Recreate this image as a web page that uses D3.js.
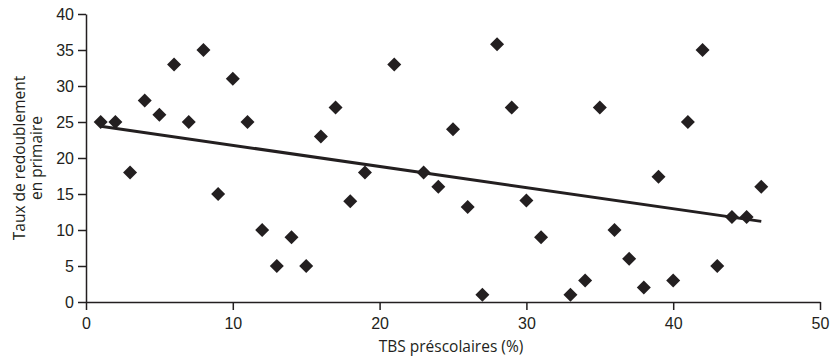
<!DOCTYPE html>
<html>
<head>
<meta charset="utf-8">
<script src="https://cdn.jsdelivr.net/npm/d3@7"></script>
<style>
  body { margin: 0; background: #fff; }
  svg { display: block; font-family: "Open Sans", sans-serif; }
</style>
</head>
<body>
<div id="chart"></div>
<script>
// TBS préscolaires (%) -> taux de redoublement en primaire
const tbs = [1, 2, 3, 4, 5, 6, 7, 8, 9, 10, 11, 12, 13, 14, 15, 16, 17, 18, 19, 21,
  23, 24, 25, 26, 27, 28, 29, 30, 31, 33, 34, 35, 36, 37, 38, 39, 40, 41, 42, 43, 44, 45, 46];
const redoublement = [25, 25, 18, 28, 26, 33, 25, 35, 15, 31, 25, 10, 5, 9, 5, 23, 27, 14, 18, 33,
  18, 16, 24, 13.2, 1, 35.8, 27, 14.1, 9, 1, 3, 27, 10, 6, 2, 17.4, 3, 25, 35, 5, 11.8, 11.8, 16];
const trendX = [1, 46];
const trendY = [24.4, 11.2];
const xTicks = [0, 10, 20, 30, 40, 50];
const yTicks = [0, 5, 10, 15, 20, 25, 30, 35, 40];

const width = 832;
const height = 358;
const margin = {top: 14, right: 12, bottom: 56, left: 86};

const svg = d3.select('#chart')
  .append('svg')
  .attr('width', width)
  .attr('height', height);

const x = d3.scaleLinear()
  .domain([0, 50])
  .range([margin.left, width - margin.right]);

const y = d3.scaleLinear()
  .domain([0, 40])
  .range([height - margin.bottom, margin.top]);

const ink = '#231f20';

// axes
function xAxis(g) {
  g.attr('transform', `translate(0, ${height - margin.bottom})`)
    .call(d3.axisBottom(x).tickValues(xTicks).tickSize(8).tickPadding(8).tickSizeOuter(0))
  g.selectAll('text').attr('font-size', '16px').attr('fill', ink)
}

function yAxis(g) {
  g.attr('transform', `translate(${margin.left}, 0)`)
    .call(d3.axisLeft(y).tickValues(yTicks).tickSize(8).tickPadding(4).tickSizeOuter(0))
  g.selectAll('text').attr('font-size', '16px').attr('fill', ink)
}

svg.append('g').call(xAxis)
svg.append('g').call(yAxis)
svg.selectAll('.domain, .tick line').attr('stroke', ink).attr('stroke-width', 1.5)

// points
const pts = tbs.map((v, i) => ({x: v, y: redoublement[i]}));
svg.append('g')
  .attr('fill', ink)
  .selectAll('path')
  .data(pts)
  .join('path')
    .attr('transform', d => `translate(${x(d.x)}, ${y(d.y)})`)
    .attr('d', 'M0,-7L7,0L0,7L-7,0Z');

// trend line
const trend = trendX.map((v, i) => [v, trendY[i]]);
svg.append('path')
  .datum(trend)
  .attr('fill', 'none')
  .attr('stroke', ink)
  .attr('stroke-width', 3)
  .attr('d', d3.line().x(d => x(d[0])).y(d => y(d[1])));

// axis titles
svg.append('text')
  .attr('x', 451)
  .attr('y', 352)
  .attr('text-anchor', 'middle')
  .attr('font-size', '15.5px')
  .attr('fill', ink)
  .text('TBS préscolaires (%)');

const yt = svg.append('text')
  .attr('transform', 'translate(25, 158) rotate(-90)')
  .attr('text-anchor', 'middle')
  .attr('font-size', '15.5px')
  .attr('fill', ink);
yt.append('tspan').attr('x', 0).attr('dy', 0).text('Taux de redoublement');
yt.append('tspan').attr('x', 0).attr('dy', 17).text('en primaire');
</script>
</body>
</html>
